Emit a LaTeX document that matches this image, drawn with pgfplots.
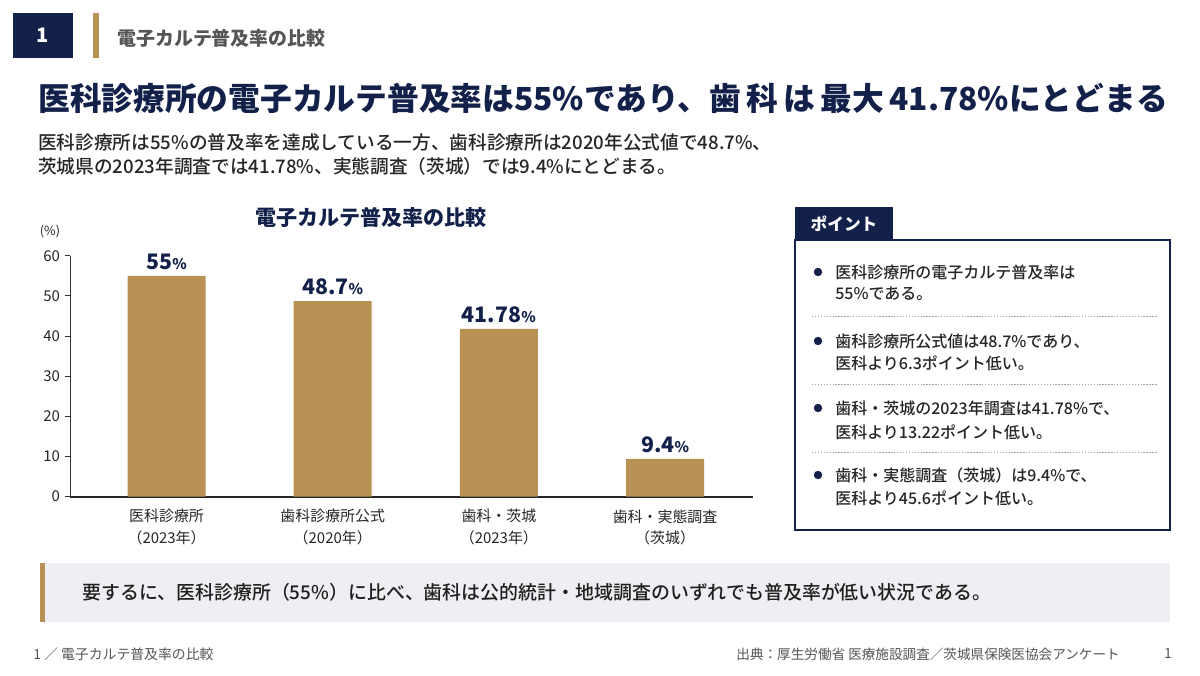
\documentclass[border=0pt]{standalone}
\usepackage{fontspec}
\setmainfont{Noto Sans CJK JP}
\newfontfamily\medfont{Noto Sans CJK JP Medium}
\usepackage{pgfplots}
\pgfplotsset{compat=1.18}
\usepackage{pgfplotstable}
\definecolor{navy}{RGB}{19,33,74}
\definecolor{gold}{RGB}{184,146,84}
\definecolor{txt}{RGB}{38,38,38}
\definecolor{graytxt}{RGB}{85,85,85}
\definecolor{calloutbg}{RGB}{238,239,242}
\definecolor{dotc}{RGB}{165,165,165}

\pgfplotstableread{
x y label
0 55 55
1 48.7 48.7
2 41.78 41.78
3 9.4 9.4
}\ratedata

\begin{document}
\begin{tikzpicture}
\begin{scope}[x=0.75pt,y=-0.75pt]
\useasboundingbox (0,0) rectangle (1200,675);
\fill[white] (0,0) rectangle (1200,675);
% header
\fill[navy] (13,13) rectangle (73,58);
\node[text=white,inner sep=0,font=\fontsize{15}{18}\selectfont\bfseries] at (43,35.5) {1};
\fill[gold] (93,13) rectangle (99,58);
\node[anchor=west,inner sep=0,text=graytxt,font=\fontsize{14.2}{16}\selectfont\bfseries] at (117,38) {電子カルテ普及率の比較};
% title
\node[anchor=west,inner sep=0,text=navy,font=\fontsize{23.8}{28}\selectfont\bfseries] at (38,98) {医科診療所の電子カルテ普及率は55\%であり、歯\,科\,は\,最大\,41.78\%にとどまる};
% subtitle
\node[anchor=west,inner sep=0,text=txt,font=\fontsize{14}{16}\selectfont\medfont] at (38,142) {医科診療所は55\%の普及率を達成している一方、歯科診療所は2020年公式値で48.7\%、};
\node[anchor=west,inner sep=0,text=txt,font=\fontsize{14}{16}\selectfont\medfont] at (38,166) {茨城県の2023年調査では41.78\%、実態調査（茨城）では9.4\%にとどまる。};
% chart title
\node[inner sep=0,text=navy,font=\fontsize{15.8}{18}\selectfont\bfseries] at (371,217) {電子カルテ普及率の比較};
\node[inner sep=0,text=txt,font=\fontsize{9.5}{11}\selectfont] at (50,232) {(\%)};
% points box
\draw[navy,line width=1.1pt] (795,240) rectangle (1170,530);
\fill[navy] (795,207) rectangle (893,240);
\node[inner sep=0,text=white,font=\fontsize{12.5}{15}\selectfont\bfseries] at (844,224) {ポイント};
\foreach \yy in {316,384,452} {\draw[dotc,line width=0.6pt,dash pattern=on 1pt off 1.2pt] (812,\yy) -- (1157,\yy);}
\foreach \yy in {272,341,408,475} {\fill[navy] (818,\yy) circle (4.2);}
\begin{scope}[every node/.style={anchor=west,inner sep=0,text=txt,font=\fontsize{12}{15}\selectfont\medfont}]
\node at (835,272) {医科診療所の電子カルテ普及率は};
\node at (835,294) {55\%である。};
\node at (835,341) {歯科診療所公式値は48.7\%であり、};
\node at (835,363) {医科より6.3ポイント低い。};
\node at (835,408) {歯科・茨城の2023年調査は41.78\%で、};
\node at (835,432) {医科より13.22ポイント低い。};
\node at (835,475) {歯科・実態調査（茨城）は9.4\%で、};
\node at (835,498) {医科より45.6ポイント低い。};
\end{scope}
% callout
\fill[calloutbg] (40,563) rectangle (1170,622);
\fill[gold] (40,563) rectangle (45,622);
\node[anchor=west,inner sep=0,text=black!88,font=\fontsize{14.2}{16}\selectfont\medfont] at (82,592) {要するに、医科診療所（55\%）に比べ、歯科は公的統計・地域調査のいずれでも普及率が低い状況である。};
% footer
\node[anchor=west,inner sep=0,text=graytxt,font=\fontsize{10.4}{12}\selectfont] at (33,654) {1 ／ 電子カルテ普及率の比較};
\node[anchor=east,inner sep=0,text=graytxt,font=\fontsize{10.2}{12}\selectfont] at (1120,654) {出典：厚生労働省 医療施設調査／茨城県保険医協会アンケート};
\node[inner sep=0,text=graytxt,font=\fontsize{10.5}{12}\selectfont] at (1168,654) {1};
\end{scope}
\begin{axis}[
  at={(52.5pt,-372.5pt)}, anchor=south west,
  scale only axis, width=512.6pt, height=180.75pt,
  xmin=-0.581, xmax=3.532, ymin=0, ymax=60,
  axis x line*=bottom, axis y line*=left,
  x axis line style={-, line width=1.4pt, draw=black!85},
  y axis line style={-, line width=0.6pt, draw=black!80},
  xtick=data,
  xticklabels={医科診療所\\（2023年）,歯科診療所公式\\（2020年）,歯科・茨城\\（2023年）,歯科・実態調査\\（茨城）},
  xtick style={draw=none},
  xticklabel style={align=center, font=\fontsize{11.2}{16}\selectfont, text=txt, yshift=-2pt},
  ytick={0,10,20,30,40,50,60},
  ytick style={draw=black!80, line width=0.6pt},
  tick align=outside, major tick length=4pt,
  yticklabel style={font=\fontsize{11.2}{13}\selectfont, text=txt},
  /pgf/number format/assume math mode=true,
  clip=false,
  bar width=58.5pt,
  nodes near coords={\pgfplotspointmeta{\fontsize{11}{12}\selectfont\%}},
  point meta=explicit symbolic,
  every node near coord/.append style={font=\fontsize{16}{18}\selectfont\bfseries, text=navy, anchor=south, yshift=3.5pt, inner sep=1pt},
]
\addplot[ybar, fill=gold, draw=none] table[x=x, y=y, meta=label] {\ratedata};
\end{axis}
\end{tikzpicture}
\end{document}
